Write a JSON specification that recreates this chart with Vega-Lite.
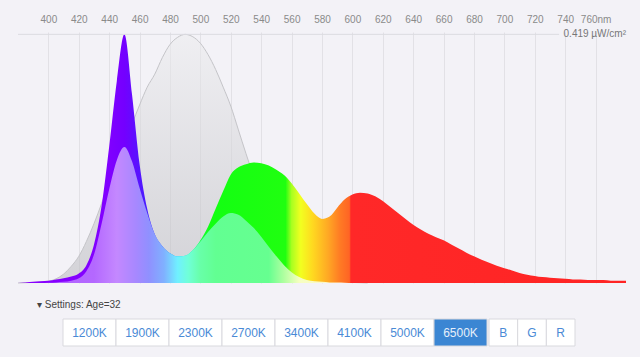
{
  "$schema": "https://vega.github.io/schema/vega-lite/v6.json",
  "background": "#f3f2f7",
  "padding": {"left": 16, "right": 16, "top": 14, "bottom": 11},
  "autosize": {"type": "pad"},
  "config": {"view": {"stroke": null}, "font": "Liberation Sans"},
  "spacing": 14,
  "datasets": {
    "spd": [
      {"wl": 380, "melanopic": 0, "spectrum": 0.000, "weighted": 0},
      {"wl": 385, "melanopic": 0.0005, "spectrum": 0.001, "weighted": 0},
      {"wl": 390, "melanopic": 0.001, "spectrum": 0.002, "weighted": 0},
      {"wl": 395, "melanopic": 0.002, "spectrum": 0.003, "weighted": 0},
      {"wl": 400, "melanopic": 0.003, "spectrum": 0.004, "weighted": 0.0005},
      {"wl": 405, "melanopic": 0.007, "spectrum": 0.006, "weighted": 0.001},
      {"wl": 410, "melanopic": 0.015, "spectrum": 0.008, "weighted": 0.002},
      {"wl": 415, "melanopic": 0.028, "spectrum": 0.011, "weighted": 0.004},
      {"wl": 420, "melanopic": 0.045, "spectrum": 0.016, "weighted": 0.008},
      {"wl": 425, "melanopic": 0.07, "spectrum": 0.03, "weighted": 0.02},
      {"wl": 430, "melanopic": 0.1, "spectrum": 0.065, "weighted": 0.048},
      {"wl": 435, "melanopic": 0.134, "spectrum": 0.13, "weighted": 0.1},
      {"wl": 440, "melanopic": 0.17, "spectrum": 0.23, "weighted": 0.158},
      {"wl": 445, "melanopic": 0.203, "spectrum": 0.34, "weighted": 0.207},
      {"wl": 450, "melanopic": 0.235, "spectrum": 0.419, "weighted": 0.229},
      {"wl": 455, "melanopic": 0.268, "spectrum": 0.318, "weighted": 0.205},
      {"wl": 460, "melanopic": 0.3, "spectrum": 0.2, "weighted": 0.16},
      {"wl": 465, "melanopic": 0.33, "spectrum": 0.125, "weighted": 0.118},
      {"wl": 470, "melanopic": 0.352, "spectrum": 0.082, "weighted": 0.082},
      {"wl": 475, "melanopic": 0.38, "spectrum": 0.062, "weighted": 0.062},
      {"wl": 480, "melanopic": 0.402, "spectrum": 0.05, "weighted": 0.05},
      {"wl": 485, "melanopic": 0.414, "spectrum": 0.045, "weighted": 0.045},
      {"wl": 490, "melanopic": 0.419, "spectrum": 0.046, "weighted": 0.046},
      {"wl": 495, "melanopic": 0.415, "spectrum": 0.055, "weighted": 0.055},
      {"wl": 500, "melanopic": 0.404, "spectrum": 0.072, "weighted": 0.07},
      {"wl": 505, "melanopic": 0.385, "spectrum": 0.095, "weighted": 0.086},
      {"wl": 510, "melanopic": 0.36, "spectrum": 0.125, "weighted": 0.1},
      {"wl": 515, "melanopic": 0.33, "spectrum": 0.155, "weighted": 0.112},
      {"wl": 520, "melanopic": 0.298, "spectrum": 0.183, "weighted": 0.118},
      {"wl": 525, "melanopic": 0.258, "spectrum": 0.195, "weighted": 0.115},
      {"wl": 530, "melanopic": 0.218, "spectrum": 0.2, "weighted": 0.105},
      {"wl": 535, "melanopic": 0.18, "spectrum": 0.203, "weighted": 0.093},
      {"wl": 540, "melanopic": 0.145, "spectrum": 0.202, "weighted": 0.078},
      {"wl": 545, "melanopic": 0.113, "spectrum": 0.198, "weighted": 0.061},
      {"wl": 550, "melanopic": 0.085, "spectrum": 0.191, "weighted": 0.045},
      {"wl": 555, "melanopic": 0.063, "spectrum": 0.182, "weighted": 0.03},
      {"wl": 560, "melanopic": 0.045, "spectrum": 0.168, "weighted": 0.018},
      {"wl": 565, "melanopic": 0.032, "spectrum": 0.151, "weighted": 0.01},
      {"wl": 570, "melanopic": 0.022, "spectrum": 0.133, "weighted": 0.005},
      {"wl": 575, "melanopic": 0.015, "spectrum": 0.117, "weighted": 0.003},
      {"wl": 580, "melanopic": 0.01, "spectrum": 0.108, "weighted": 0.002},
      {"wl": 585, "melanopic": 0.007, "spectrum": 0.112, "weighted": 0.001},
      {"wl": 590, "melanopic": 0.004, "spectrum": 0.127, "weighted": 0.001},
      {"wl": 595, "melanopic": 0.002, "spectrum": 0.141, "weighted": 0.0005},
      {"wl": 600, "melanopic": 0.001, "spectrum": 0.149, "weighted": 0},
      {"wl": 605, "melanopic": 0.0005, "spectrum": 0.152, "weighted": 0},
      {"wl": 610, "melanopic": 0, "spectrum": 0.151, "weighted": 0},
      {"wl": 615, "melanopic": 0, "spectrum": 0.146, "weighted": 0},
      {"wl": 620, "melanopic": 0, "spectrum": 0.138, "weighted": 0},
      {"wl": 625, "melanopic": 0, "spectrum": 0.128, "weighted": 0},
      {"wl": 630, "melanopic": 0, "spectrum": 0.118, "weighted": 0},
      {"wl": 635, "melanopic": 0, "spectrum": 0.108, "weighted": 0},
      {"wl": 640, "melanopic": 0, "spectrum": 0.098, "weighted": 0},
      {"wl": 645, "melanopic": 0, "spectrum": 0.09, "weighted": 0},
      {"wl": 650, "melanopic": 0, "spectrum": 0.083, "weighted": 0},
      {"wl": 655, "melanopic": 0, "spectrum": 0.077, "weighted": 0},
      {"wl": 660, "melanopic": 0, "spectrum": 0.072, "weighted": 0},
      {"wl": 665, "melanopic": 0, "spectrum": 0.065, "weighted": 0},
      {"wl": 670, "melanopic": 0, "spectrum": 0.058, "weighted": 0},
      {"wl": 675, "melanopic": 0, "spectrum": 0.051, "weighted": 0},
      {"wl": 680, "melanopic": 0, "spectrum": 0.045, "weighted": 0},
      {"wl": 685, "melanopic": 0, "spectrum": 0.039, "weighted": 0},
      {"wl": 690, "melanopic": 0, "spectrum": 0.034, "weighted": 0},
      {"wl": 695, "melanopic": 0, "spectrum": 0.029, "weighted": 0},
      {"wl": 700, "melanopic": 0, "spectrum": 0.025, "weighted": 0},
      {"wl": 705, "melanopic": 0, "spectrum": 0.021, "weighted": 0},
      {"wl": 710, "melanopic": 0, "spectrum": 0.017, "weighted": 0},
      {"wl": 715, "melanopic": 0, "spectrum": 0.014, "weighted": 0},
      {"wl": 720, "melanopic": 0, "spectrum": 0.012, "weighted": 0},
      {"wl": 725, "melanopic": 0, "spectrum": 0.01, "weighted": 0},
      {"wl": 730, "melanopic": 0, "spectrum": 0.009, "weighted": 0},
      {"wl": 735, "melanopic": 0, "spectrum": 0.008, "weighted": 0},
      {"wl": 740, "melanopic": 0, "spectrum": 0.007, "weighted": 0},
      {"wl": 745, "melanopic": 0, "spectrum": 0.006, "weighted": 0},
      {"wl": 750, "melanopic": 0, "spectrum": 0.006, "weighted": 0},
      {"wl": 755, "melanopic": 0, "spectrum": 0.005, "weighted": 0},
      {"wl": 760, "melanopic": 0, "spectrum": 0.005, "weighted": 0},
      {"wl": 765, "melanopic": 0, "spectrum": 0.005, "weighted": 0},
      {"wl": 770, "melanopic": 0, "spectrum": 0.004, "weighted": 0},
      {"wl": 775, "melanopic": 0, "spectrum": 0.004, "weighted": 0},
      {"wl": 780, "melanopic": 0, "spectrum": 0.004, "weighted": 0}
    ],
    "buttonsK": [
      {"label": "1200K"}, {"label": "1900K"}, {"label": "2300K"}, {"label": "2700K"},
      {"label": "3400K"}, {"label": "4100K"}, {"label": "5000K"}, {"label": "6500K"}
    ],
    "buttonsRGB": [{"label": "B"}, {"label": "G"}, {"label": "R"}]
  },
  "vconcat": [
    {
      "width": 608,
      "height": 251,
      "encoding": {
        "x": {"field": "wl", "type": "quantitative",
          "scale": {"domain": [380, 780], "nice": false, "zero": false},
          "axis": {"orient": "top", "values": [400,420,440,460,480,500,520,540,560,580,600,620,640,660,680,700,720,740,760],
            "grid": true, "gridColor": "#e2e1e6", "ticks": false, "domain": false,
            "labelPadding": 8, "labelFontSize": 10, "labelColor": "#8a8a8a", "labelFont": "Liberation Sans",
            "labelFlush": false, "labelOverlap": false, "title": null,
            "labelExpr": "datum.value == 760 ? '760nm' : datum.label"}}
      },
      "layer": [
        {
          "data": {"name": "spd"},
          "transform": [{"filter": "datum.wl <= 612"}],
          "mark": {
            "type": "area",
            "interpolate": "monotone",
            "fillOpacity": 0.55,
            "fill": {"gradient": "linear", "x1": 0, "y1": 0, "x2": 0, "y2": 1,
              "stops": [{"offset": 0, "color": "#ececee"}, {"offset": 1, "color": "#b9b9bd"}]},
            "line": {"color": "#c4c4c8", "strokeWidth": 1, "interpolate": "monotone"}
          },
          "encoding": {
            "y": {"field": "melanopic", "type": "quantitative",
              "scale": {"domain": [0, 0.423], "nice": false},
              "axis": {"values": [0.1, 0.2, 0.3], "grid": true, "gridColor": "#e2e1e6", "labels": false,
                "ticks": false, "domain": false, "title": null}}
          }
        },
        {
          "data": {"name": "spd"},
          "mark": {
            "type": "area",
            "interpolate": "monotone",
            "fill": {"gradient": "linear", "x1": 0, "y1": 0, "x2": 1, "y2": 0,
              "stops": [
                {"offset": 0, "color": "#8a00ff"},
                {"offset": 0.15, "color": "#8000ff"},
                {"offset": 0.175, "color": "#7400ff"},
                {"offset": 0.195, "color": "#5c10ff"},
                {"offset": 0.215, "color": "#4420ff"},
                {"offset": 0.24, "color": "#2a50ff"},
                {"offset": 0.26, "color": "#00b0ff"},
                {"offset": 0.28, "color": "#00ffc8"},
                {"offset": 0.30, "color": "#10ff40"},
                {"offset": 0.315, "color": "#12ff12"},
                {"offset": 0.44, "color": "#20ff10"},
                {"offset": 0.45, "color": "#a8ff20"},
                {"offset": 0.465, "color": "#f2ff20"},
                {"offset": 0.485, "color": "#ffd820"},
                {"offset": 0.51, "color": "#ffa824"},
                {"offset": 0.53, "color": "#ff7a24"},
                {"offset": 0.545, "color": "#ff6424"},
                {"offset": 0.5475, "color": "#ff2828"},
                {"offset": 1, "color": "#ff2424"}
              ]}
          },
          "encoding": {
            "y": {"field": "spectrum", "type": "quantitative", "axis": null}
          }
        },
        {
          "data": {"name": "spd"},
          "mark": {
            "type": "area",
            "interpolate": "monotone",
            "fill": {"gradient": "linear", "x1": 0, "y1": 0, "x2": 1, "y2": 0,
              "stops": [
                {"offset": 0, "color": "#b060ff"},
                {"offset": 0.125, "color": "#b468ff"},
                {"offset": 0.1625, "color": "#c488ff"},
                {"offset": 0.195, "color": "#a688ff"},
                {"offset": 0.215, "color": "#9090ff"},
                {"offset": 0.24, "color": "#80b0ff"},
                {"offset": 0.2625, "color": "#70f0ff"},
                {"offset": 0.28, "color": "#70ffd8"},
                {"offset": 0.30, "color": "#68ffa8"},
                {"offset": 0.325, "color": "#62ff92"},
                {"offset": 0.4125, "color": "#66ff90"},
                {"offset": 0.4375, "color": "#b0ffa0"},
                {"offset": 0.4625, "color": "#f6ffc0"},
                {"offset": 0.55, "color": "#fff0d0"},
                {"offset": 1, "color": "#fff0d0"}
              ]}
          },
          "encoding": {
            "y": {"field": "weighted", "type": "quantitative", "axis": null}
          }
        },
        {
          "data": {"values": [{"level": 0.419, "wl": 380, "to": 736}]},
          "mark": {"type": "rule", "color": "#dcdbe1", "strokeWidth": 1},
          "encoding": {
            "x2": {"field": "to"},
            "y": {"field": "level", "type": "quantitative", "axis": null}
          }
        },
        {
          "data": {"values": [{"level": 0.419, "wl": 780, "label": "0.419 µW/cm²"}]},
          "mark": {"type": "text", "align": "right", "baseline": "middle", "fontSize": 10, "color": "#777777", "font": "Liberation Sans"},
          "encoding": {
            "y": {"field": "level", "type": "quantitative", "axis": null},
            "text": {"field": "label"}
          }
        }
      ]
    },
    {
      "title": {"text": "▾ Settings: Age=32", "anchor": "start", "fontSize": 10, "fontWeight": "normal",
        "color": "#444444", "font": "Liberation Sans", "offset": 9, "dx": 19},
      "spacing": 0,
      "hconcat": [
        {
          "width": 44, "height": 27,
          "data": {"values": []},
          "mark": "rect"
        },
        {
          "width": 424, "height": 27,
          "data": {"name": "buttonsK"},
          "layer": [
            {
              "mark": {"type": "rect", "stroke": "#d9d9de", "strokeWidth": 1},
              "encoding": {
                "x": {"field": "label", "type": "nominal", "sort": null,
                  "scale": {"type": "band", "paddingInner": 0, "paddingOuter": 0}, "axis": null},
                "fill": {"condition": {"test": "datum.label === '6500K'", "value": "#3b86d3"}, "value": "#ffffff"}
              }
            },
            {
              "mark": {"type": "text", "fontSize": 12, "font": "Liberation Sans", "baseline": "middle"},
              "encoding": {
                "x": {"field": "label", "type": "nominal", "sort": null, "axis": null},
                "text": {"field": "label"},
                "color": {"condition": {"test": "datum.label === '6500K'", "value": "#e6effa"}, "value": "#4a8ad6"}
              }
            }
          ]
        },
        {
          "width": 86, "height": 27,
          "data": {"name": "buttonsRGB"},
          "layer": [
            {
              "mark": {"type": "rect", "stroke": "#d9d9de", "strokeWidth": 1, "fill": "#ffffff"},
              "encoding": {
                "x": {"field": "label", "type": "nominal", "sort": null,
                  "scale": {"type": "band", "paddingInner": 0, "paddingOuter": 0}, "axis": null}
              }
            },
            {
              "mark": {"type": "text", "fontSize": 12, "font": "Liberation Sans", "baseline": "middle", "color": "#4a8ad6"},
              "encoding": {
                "x": {"field": "label", "type": "nominal", "sort": null, "axis": null},
                "text": {"field": "label"}
              }
            }
          ]
        }
      ]
    }
  ]
}
